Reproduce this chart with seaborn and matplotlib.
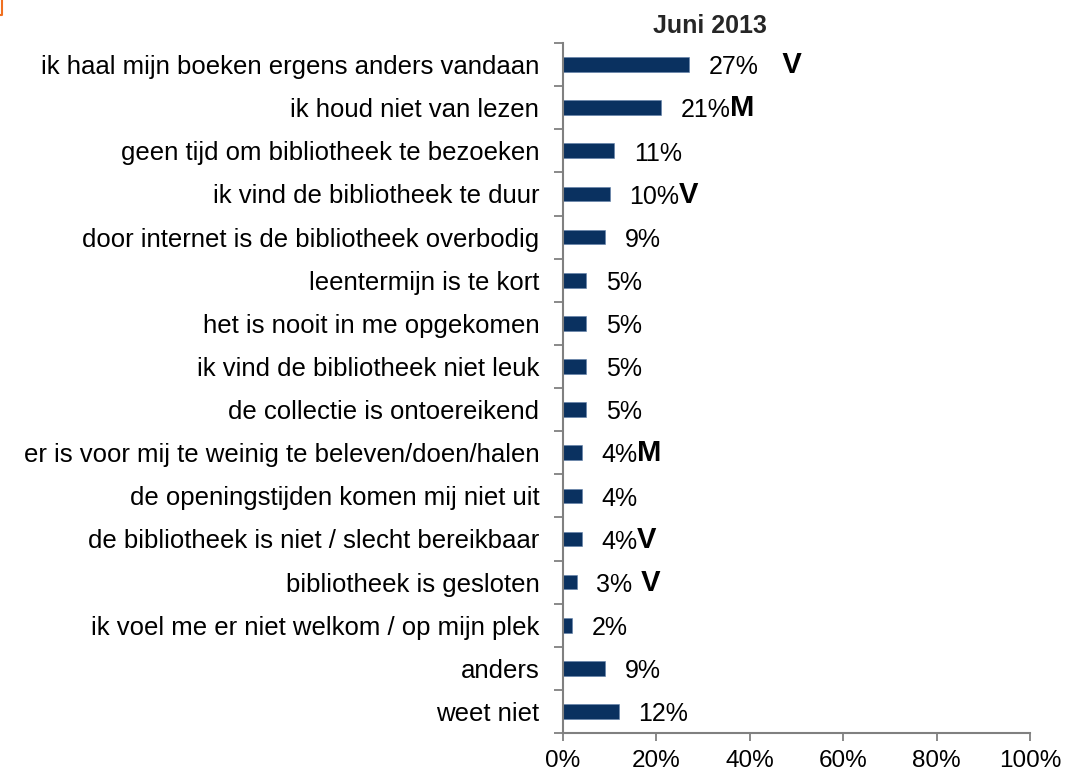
import seaborn as sns
import matplotlib.pyplot as plt
from matplotlib.lines import Line2D
from matplotlib.ticker import FixedLocator, PercentFormatter

# Data
categories = [
    'ik haal mijn boeken ergens anders vandaan',
    'ik houd niet van lezen',
    'geen tijd om bibliotheek te bezoeken',
    'ik vind de bibliotheek te duur',
    'door internet is de bibliotheek overbodig',
    'leentermijn is te kort',
    'het is nooit in me opgekomen',
    'ik vind de bibliotheek niet leuk',
    'de collectie is ontoereikend',
    'er is voor mij te weinig te beleven/doen/halen',
    'de openingstijden komen mij niet uit',
    'de bibliotheek is niet / slecht bereikbaar',
    'bibliotheek is gesloten',
    'ik voel me er niet welkom / op mijn plek',
    'anders',
    'weet niet',
]
values = [27, 21, 11, 10, 9, 5, 5, 5, 5, 4, 4, 4, 3, 2, 9, 12]
marks = ['   V', 'M', '', 'V', '', '', '', '', '', 'M', '', 'V', ' V', '', '', '']
x_ticks = [0, 20, 40, 60, 80, 100]
title = 'Juni 2013'

bar_color = '#0a3160'
axis_grey = '#808080'

sns.set_style('white')
plt.rcParams['font.family'] = ['Liberation Sans', 'DejaVu Sans']

fig = plt.figure(figsize=(10.9, 7.79), dpi=100)
ax = fig.add_axes([0.5165, 0.059, 0.4285, 0.8858])

sns.barplot(x=values, y=categories, orient='h', color=bar_color,
            width=0.34, saturation=1, edgecolor='#5f7fa8', linewidth=0.4, ax=ax)

ax.set_xlim(0, 100)
ax.set_ylim(len(categories) - 0.5, -0.5)
ax.xaxis.set_major_locator(FixedLocator(x_ticks))
ax.xaxis.set_major_formatter(PercentFormatter(decimals=0))
ax.set_xlabel('')
ax.set_ylabel('')

# y: labels at centres without ticks, tick marks between categories
ax.yaxis.set_minor_locator(FixedLocator([i - 0.5 for i in range(len(categories) + 1)]))
ax.tick_params(axis='y', which='major', length=0, pad=17, labelsize=18.5, labelcolor='black')
ax.tick_params(axis='y', which='minor', left=True, length=6.5, width=1.3, color=axis_grey, direction='out')
ax.tick_params(axis='x', which='major', bottom=True, length=5.5, width=1.3, color=axis_grey,
               direction='out', pad=7, labelsize=17.5, labelcolor='black')

for side in ['top', 'right']:
    ax.spines[side].set_visible(False)
for side in ['left', 'bottom']:
    ax.spines[side].set_color(axis_grey)
    ax.spines[side].set_linewidth(1.5)

# value labels plus bold markers
for i, (v, m) in enumerate(zip(values, marks)):
    lab = ax.annotate(f'{v}%', xy=(v, i), xytext=(14, -2), textcoords='offset points',
                      ha='left', va='center', fontsize=18, color='black')
    if m:
        ax.annotate(m, xy=(1, 0), xycoords=lab, ha='left', va='bottom',
                    fontsize=21, fontweight='bold', color='black')

fig.text(710 / 1090, 1 - 26 / 779, title, ha='center', va='center',
         fontsize=18, fontweight='bold')

# small orange corner mark from the source image
fig.add_artist(Line2D([2 / 1090, 2 / 1090, 0], [1, 1 - 15 / 779, 1 - 15 / 779],
                      transform=fig.transFigure, color='#f07020', linewidth=1.5))

fig.savefig('out.png', dpi=100)
